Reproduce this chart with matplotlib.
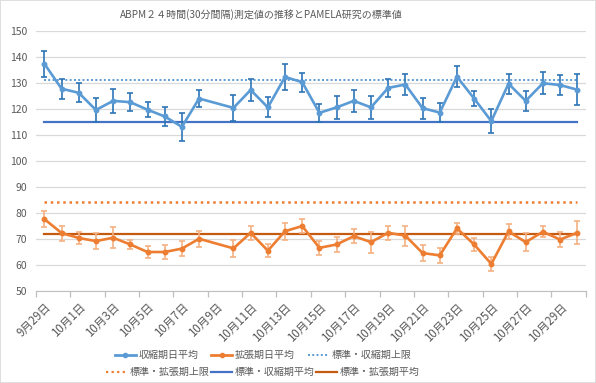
import numpy as np
import matplotlib
matplotlib.use("Agg")
import matplotlib.pyplot as plt
from matplotlib.lines import Line2D
from matplotlib.patches import Rectangle

plt.rcParams['font.family'] = ['Noto Sans CJK JP', 'DejaVu Sans']

# ---- data ----
title = "ABPM２４時間(30分間隔)測定値の推移とPAMELA研究の標準値"
start_date = "2023-09-29"
dates = ["09-29", "09-30", "10-01", "10-02", "10-03", "10-04", "10-05", "10-06",
         "10-07", "10-08", "10-10", "10-11", "10-12", "10-13", "10-14", "10-15",
         "10-16", "10-17", "10-18", "10-19", "10-20", "10-21", "10-22", "10-23",
         "10-24", "10-25", "10-26", "10-27", "10-28", "10-29", "10-30"]
sys_mean = [137.4, 127.8, 126.2, 119.6, 123.1, 122.6, 119.7, 117.1, 113.1, 124.0,
            120.4, 127.3, 120.6, 132.3, 130.3, 118.5, 120.6, 123.1, 120.6, 128.1,
            129.4, 120.3, 118.6, 132.4, 124.0, 115.3, 129.7, 123.1, 129.9, 129.2, 127.4]
sys_err = [5.0, 3.8, 3.6, 4.5, 4.5, 3.4, 3.0, 3.6, 5.4, 3.4,
           5.0, 4.1, 3.8, 5.1, 3.7, 3.5, 4.4, 4.3, 4.4, 3.6,
           4.0, 4.0, 3.6, 4.0, 3.0, 4.6, 3.8, 3.8, 4.3, 4.0, 5.9]
dia_mean = [77.6, 72.2, 70.3, 69.1, 70.4, 67.8, 64.9, 64.9, 66.2, 70.0,
            66.3, 72.3, 65.4, 72.9, 74.9, 66.5, 67.8, 71.0, 68.7, 72.3,
            71.2, 64.5, 63.6, 74.0, 67.8, 60.3, 72.8, 68.7, 72.7, 69.7, 72.3]
dia_err = [3.0, 2.9, 2.4, 3.1, 4.0, 1.9, 2.5, 2.7, 2.8, 3.0,
           3.4, 2.8, 2.4, 3.2, 2.8, 2.6, 3.0, 2.8, 4.0, 2.6,
           3.8, 3.1, 3.0, 2.0, 2.6, 2.7, 2.9, 3.5, 2.2, 2.9, 4.5]
std_sys_upper = 131
std_dia_upper = 84
std_sys_mean = 115
std_dia_mean = 72
tick_labels = ["9月29日", "10月1日", "10月3日", "10月5日", "10月7日", "10月9日",
               "10月11日", "10月13日", "10月15日", "10月17日", "10月19日", "10月21日",
               "10月23日", "10月25日", "10月27日", "10月29日"]
series_names = ["収縮期日平均", "拡張期日平均", "標準・収縮期上限",
                "標準・拡張期上限", "標準・収縮期平均", "標準・拡張期平均"]
yticks = [50, 60, 70, 80, 90, 100, 110, 120, 130, 140, 150]

# ---- conversion ----
t0 = np.datetime64(start_date)
x = np.array([(np.datetime64("2023-" + d) - t0).astype(int) for d in dates])
ndays = int(x[-1]) + 1

c_sys = "#5B9BD5"
c_sys_err = "#2E75B6"
c_dia = "#ED7D31"
c_dia_err = "#F4B183"
c_sys_ref = "#4472C4"
c_dia_ref = "#C55A11"

fig = plt.figure(figsize=(5.96, 3.83), dpi=100)
fig.patches.append(Rectangle((0, 0), 1, 1, transform=fig.transFigure,
                             fill=False, edgecolor="#D9D9D9", lw=1.2))
ax = fig.add_axes([0.060, 0.241, 0.923, 0.678])

ax.set_xlim(-0.5, ndays - 0.5)
ax.set_ylim(50, 150)
ax.set_yticks(yticks)
ax.grid(axis='y', color="#D9D9D9", lw=0.9)
ax.set_axisbelow(True)
for s in ["left", "right", "top"]:
    ax.spines[s].set_visible(False)
ax.spines["bottom"].set_color("#BFBFBF")
ax.tick_params(axis='y', length=0, labelsize=7.5, labelcolor="#595959", pad=6)

# reference lines
xr = [x[0], x[-1]]
ax.plot(xr, [std_sys_upper] * 2, color=c_sys, lw=1.4, ls=(0, (1, 1.2)))
ax.plot(xr, [std_dia_upper] * 2, color=c_dia, lw=1.8, ls=(0, (1, 1.5)))
ax.plot(xr, [std_sys_mean] * 2, color=c_sys_ref, lw=1.6)
ax.plot(xr, [std_dia_mean] * 2, color=c_dia_ref, lw=1.6)

# series
ax.errorbar(x, sys_mean, yerr=sys_err, fmt='none', ecolor=c_sys_err,
            elinewidth=1.2, capsize=2.5, capthick=1.2, zorder=3)
ax.plot(x, sys_mean, color=c_sys, lw=1.9, marker='o', ms=3.2, zorder=4)
ax.errorbar(x, dia_mean, yerr=dia_err, fmt='none', ecolor=c_dia_err,
            elinewidth=1.2, capsize=2.5, capthick=1.2, zorder=3)
ax.plot(x, dia_mean, color=c_dia, lw=1.9, marker='o', ms=3.2, zorder=4)

# x axis
ax.set_xticks(np.arange(0, ndays, 2))
ax.set_xticklabels(tick_labels, rotation=45, ha='right', rotation_mode='anchor')
ax.tick_params(axis='x', length=0, labelsize=8.3, labelcolor="#595959", pad=7)
ax.set_xticks(np.arange(-0.5, ndays, 2), minor=True)
ax.tick_params(axis='x', which='minor', length=4, color="#BFBFBF", width=0.9)

fig.text(261 / 596, 1 - 15 / 383, title, ha='center', va='center',
         fontsize=7.2, color="#595959")

h = [Line2D([], [], color=c_sys, lw=2, marker='o', ms=3),
     Line2D([], [], color=c_dia, lw=2, marker='o', ms=3),
     Line2D([], [], color=c_sys, lw=1.4, ls=(0, (1, 1.2))),
     Line2D([], [], color=c_dia, lw=1.6, ls=(0, (1, 1.5))),
     Line2D([], [], color=c_sys_ref, lw=1.6),
     Line2D([], [], color=c_dia_ref, lw=1.6)]
leg_kw = dict(ncol=3, frameon=False, fontsize=7.2, handlelength=2.1,
              handletextpad=0.25, labelcolor="#595959", borderpad=0)
l1 = fig.legend(h[:3], series_names[:3], loc='center',
                bbox_to_anchor=(263 / 596, 1 - 355 / 383), columnspacing=1.3, **leg_kw)
l2 = fig.legend(h[3:], series_names[3:], loc='center',
                bbox_to_anchor=(263 / 596, 1 - 372 / 383), columnspacing=0.15, **leg_kw)

fig.savefig("out.png", dpi=100)
